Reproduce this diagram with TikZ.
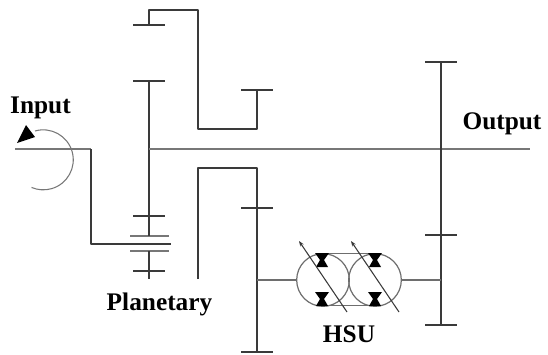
\documentclass[tikz,border=0pt]{standalone}
\usepackage{fontspec}
\setmainfont{Liberation Serif}
\usetikzlibrary{arrows.meta,positioning,calc}
\definecolor{shaftdark}{HTML}{3A3A3A}
\definecolor{shaftgray}{HTML}{777777}
\definecolor{hsugray}{HTML}{6E6E6E}

\begin{document}
\begin{tikzpicture}[x=.75pt,y=-.75pt,every node/.style={font=\fontsize{19}{20}\selectfont\bfseries,align=center,inner sep=0pt}]
\tikzset{
  shaft/.style={draw=shaftdark,line width=1.1pt,line join=round},
  lightshaft/.style={draw=shaftgray,line width=1.1pt},
  hsuline/.style={draw=hsugray,line width=.8pt},
  hsucircle/.style={circle,draw=hsugray,line width=.9pt,minimum size=39.5pt},
  valve/.style={fill=black,draw=none},
  lbl/.style={anchor=base}
}
\useasboundingbox (0,0) rectangle (548,354);
% labels
\node[lbl] (input) at (40.5,113) {Input};
\node[lbl] (planetary) at (159.5,310) {Planetary};
\node[lbl] (hsu) at (349,342) {HSU};
\node[lbl] (output) at (502,129) {Output};
% fixed points
\coordinate (inL) at (15,149);
\coordinate (inC) at (91,149);
\coordinate (carC) at (91,244);
\coordinate (carE) at (171,244);
\coordinate (hub) at (149,149);
\coordinate (outE) at (530,149);
\coordinate (hsuL) at (257,280);
\coordinate (hsuR) at (441,280);
% gears, x/y
\foreach \a/\b in {149/25,149/81,257/90,149/216,149/271,257/208,257/352,441/62,441/235,441/325}{
  \draw[shaft] ({\a-16},\b)--({\a+16},\b);
}
\foreach \b in {236,251}{
  \draw[lightshaft] (130,\b)--(169,\b);
}
% upper sleeve
\draw[shaft] (149,25)--(149,10)--(198,10)--(198,129)--(257,129)--(257,90);
% lower sleeve
\draw[shaft] (198,279)--(198,168)--(257,168)--(257,352);
% input and carrier
\draw[lightshaft] (inL)--(inC);
\draw[shaft] (inC)--(carC)--(carE);
% planet shafts
\draw[shaft] (149,81)--(149,236);
\draw[shaft] (149,251)--(149,279);
% main shaft and output gear
\draw[lightshaft] (hub)--(outE);
\draw[shaft] (441,62)--(441,325);
% hsu
\node[hsucircle] (pump) at (323,280) {};
\node[hsucircle] (motor) at (375,280) {};
\draw[hsuline] (hsuL)--(pump.west);
\draw[hsuline] (motor.east)--(hsuR);
\draw[hsuline] (323,253.5)--(375,253.5);
\draw[hsuline] (323,305.5)--(375,305.5);
\foreach \a in {322,375}{
  \foreach \b in {253,292}{
    \fill[valve] ({\a-7},\b)--({\a+7},\b)--({\a+2},{\b+7})--({\a+6},{\b+14})--({\a-6},{\b+14})--({\a-2},{\b+7})--cycle;
  }
}
\foreach \a in {299,351}{
  \draw[hsuline,draw=shaftdark,{Stealth[length=4pt,width=3pt]}-] (\a,241)--({\a+48},312);
}
% input rotation
\draw[hsuline,draw=shaftgray] (35,131) arc[start angle=-106,end angle=113,radius=30];
\fill[black] (17,143)--(26,125)--(35,137)--cycle;
\end{tikzpicture}
\end{document}
